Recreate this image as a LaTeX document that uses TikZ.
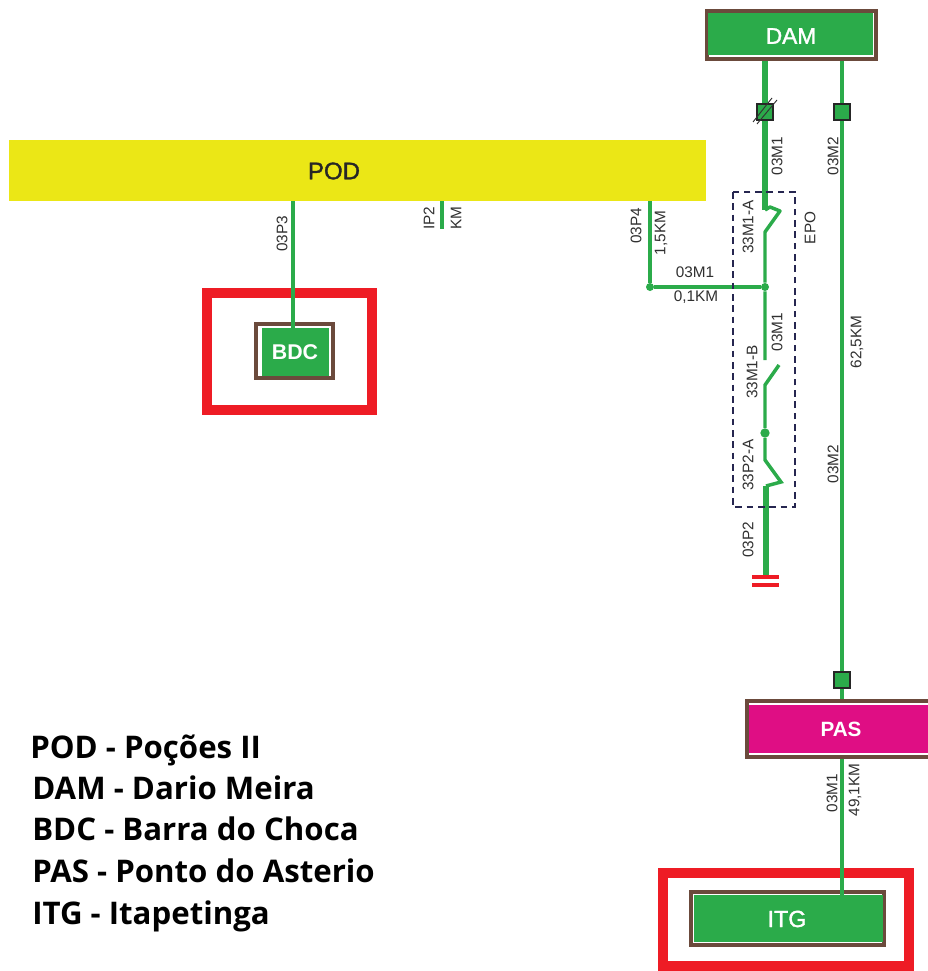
\documentclass[tikz,border=0pt]{standalone}
\usepackage{fontspec}
\usetikzlibrary{calc}
\setmainfont{Liberation Sans}
\newfontfamily\legendfont{Open Sans}
\newfontfamily\medfont[FakeBold=1.5]{Liberation Sans}
\definecolor{lnG}{HTML}{2BAB4A}
\definecolor{brn}{HTML}{6B4A3C}
\definecolor{yel}{HTML}{EBE716}
\definecolor{mag}{HTML}{DF0E84}
\definecolor{redb}{HTML}{EE1C25}
\definecolor{dsh}{HTML}{262650}
\definecolor{txt}{HTML}{303030}
\tikzset{
 x=0.75pt,y=-0.75pt,
 station/.style={draw=brn,line width=3pt,fill=white,inner sep=0pt,outer sep=0pt},
 thin line/.style={draw=lnG,line width=2.6pt},
 thick line/.style={draw=lnG,line width=4pt},
 vlab/.style={rotate=90,font=\fontsize{11.5}{12}\selectfont,text=txt,inner sep=0pt},
 hlab/.style={font=\fontsize{11.5}{12}\selectfont,text=txt,inner sep=0pt},
 stname/.style={font=\medfont\fontsize{#1}{18}\selectfont,text=white,inner sep=0pt},
 breaker/.style={draw=black!85,fill=lnG,line width=1pt,minimum size=12pt,inner sep=0pt},
 redframe/.style={draw=redb,line width=7.5pt},
 legend/.style={anchor=base west,font=\legendfont\bfseries\fontsize{23.4}{25}\selectfont,text=black,inner sep=0pt},
 dot/.style={circle,fill=lnG,minimum size=6pt,inner sep=0pt},
}
\begin{document}
\begin{tikzpicture}
\useasboundingbox (0,0) rectangle (928,971);
\fill[white] (0,0) rectangle (928,971);
% red frames
\draw[redframe] (207,293) rectangle (372,410);
\draw[redframe] (663,873) rectangle (909,966);
% yellow bus
\fill[yel] (9,140) rectangle (706,201);
\node[font=\medfont\fontsize{18}{18}\selectfont,text=black!85,inner sep=0pt] (POD) at (334,171) {POD};
% anchor points
\coordinate (pd3) at (293,201);
\coordinate (pd2) at (442,201);
\coordinate (pd2e) at (442,229);
\coordinate (pd4) at (650,201);
\node[dot] (j1) at (650,287) {};
\node[dot] (j2) at (765,287) {};
\node[dot,minimum size=7pt] (j3) at (765,433) {};
\coordinate (damL) at (765,58);
\coordinate (damR) at (842,58);
\coordinate (bdcT) at (293,328);
\coordinate (pasT) at (842,702);
\coordinate (pasB) at (842,756);
\coordinate (itgT) at (842,895);
\coordinate (sa1) at (765,210);
\coordinate (sa2) at (770,207);
\coordinate (sa3) at (780,211);
\coordinate (sa4) at (765,232);
\coordinate (sb1) at (765,360);
\coordinate (sb2) at (779,365);
\coordinate (sb3) at (765,385);
\coordinate (sc1) at (765,460);
\coordinate (sc2) at (781,482);
\coordinate (sc3) at (766,486);
\coordinate (gnd) at (766,576);
% connectors
\draw[thin line] (pd3) -- (bdcT);
\draw[thin line] (pd2) -- (pd2e);
\draw[thin line] (pd4) -- (j1) -- (j2);
\draw[thick line] (damL) -- (sa1);
\draw[thin line,line join=round] (sa1) -- (sa2) -- (sa3) -- (sa4) -- (j2) -- (sb1);
\draw[thin line] (sb2) -- (sb3) -- (j3) -- (sc1) -- (sc2) -- (sc3);
\draw[thick line] (sc3) -- (gnd);
\draw[thin line] (damR) -- (pasT);
\draw[thin line] (pasB) -- (itgT);
% ground
\fill[redb] (752,574.5) rectangle (779,579);
\fill[redb] (752,582.5) rectangle (779,587);
% breakers
\node[breaker] (brk1) at (765,112) {};
\draw[black!80,line width=.7pt] ($(brk1)+(-12,10)$) -- ($(brk1)+(7,-14)$);
\draw[black!80,line width=.7pt] ($(brk1)+(-8,12)$) -- ($(brk1)+(12,-12)$);
\node[breaker] (brk2) at (842,112) {};
\node[breaker] (brk3) at (842,680) {};
% dashed box
\draw[dsh,line width=1pt,dash pattern=on 5pt off 3.5pt] (733,192) rectangle (795,507);
% stations
\node[station,minimum width=126.5pt,minimum height=36pt] (DAMb) at (791.5,35) {};
\fill[lnG] (708,13) rectangle (873,55);
\node[stname=17] (DAM) at (791,36) {DAM};
\node[station,minimum width=57.5pt,minimum height=40.5pt] (BDCb) at (294.5,351) {};
\fill[lnG] (262,328) rectangle (329,376);
\node[stname=16,font=\bfseries\fontsize{16}{18}\selectfont] (BDC) at (295,352) {BDC};
\draw[brn,line width=3pt,fill=white] (747,701) rectangle (935,757);
\fill[mag] (749,705) rectangle (930,753);
\node[stname=15.5,font=\bfseries\fontsize{15.5}{18}\selectfont] (PAS) at (841,729) {PAS};
\node[station,minimum width=145pt,minimum height=40pt] (ITGb) at (787.5,918.5) {};
\fill[lnG] (694,895) rectangle (883,942);
\node[stname=17.5] (ITG) at (787,919) {ITG};
\draw[thin line] (293,322) -- (bdcT);
\draw[thin line] (842,890) -- (itgT);
% labels
\node[vlab] (l1) at (777,156) {03M1};
\node[vlab] (l2) at (833,156) {03M2};
\node[vlab] (l3) at (748,227) {33M1-A};
\node[vlab] (l4) at (810,228) {EPO};
\node[vlab] (l5) at (636,226) {03P4};
\node[vlab] (l6) at (661,233) {1,5KM};
\node[hlab] (l7) at (695,272) {03M1};
\node[hlab] (l8) at (696,297) {0,1KM};
\node[vlab] (l9) at (777,332) {03M1};
\node[vlab] (l10) at (752,372) {33M1-B};
\node[vlab] (l11) at (748,465) {33P2-A};
\node[vlab] (l12) at (748,540) {03P2};
\node[vlab] (l13) at (857,342) {62,5KM};
\node[vlab] (l14) at (833,464) {03M2};
\node[vlab] (l15) at (282,234) {03P3};
\node[vlab] (l16) at (429,218) {IP2};
\node[vlab] (l17) at (456,218) {KM};
\node[vlab] (l18) at (832,793) {03M1};
\node[vlab] (l19) at (855,790) {49,1KM};
% legend
\node[legend] (t1) at (30,758) {POD - Poções II};
\node[legend] (t2) at (32,799) {DAM - Dario Meira};
\node[legend] (t3) at (32,840) {BDC - Barra do Choca};
\node[legend] (t4) at (32,882) {PAS - Ponto do Asterio};
\node[legend] (t5) at (32,924) {ITG - Itapetinga};
\end{tikzpicture}
\end{document}
